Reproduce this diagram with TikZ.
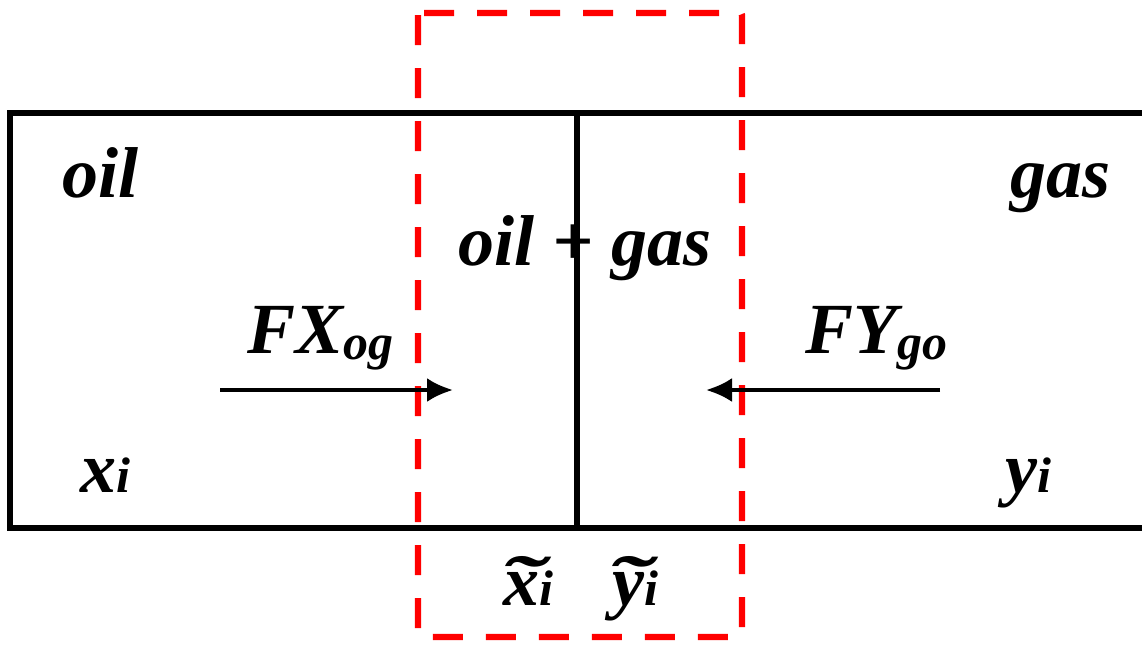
\documentclass[tikz,border=0pt]{standalone}
\usepackage{fontspec}
\usepackage{graphicx}
\setmainfont{Liberation Serif}
\usetikzlibrary{arrows.meta}
\newcommand{\subsm}[1]{{\fontsize{25}{25}\selectfont #1}}
\newcommand{\sublow}[1]{\raisebox{-3pt}{\subsm{#1}}}
\newcommand{\wtilde}[1]{\setbox0=\hbox{#1}\rlap{\hbox to \wd0{\hss\scalebox{1.8}[1]{\char"02DC}\hss}}\box0}

\begin{document}
\begin{tikzpicture}[
    x=0.5pt, y=-0.5pt,
    wall/.style={line width=3.2pt},
    zone/.style={draw=red, line width=3.2pt, dash pattern=on 15pt off 11.5pt, rounded corners=1pt},
    lbl/.style={font=\fontsize{36}{36}\selectfont\bfseries\itshape, inner sep=0pt, anchor=base west},
    flux/.style={-{Latex[length=13pt,width=12pt]}, line width=2pt}
]
\useasboundingbox (0,0) rectangle (1142,644);

% pipe walls and interface
\draw[wall] (1142,113) -| (10,528) -- (1142,528);
\draw[wall] (577,113) -- (577,528);

% interface control zone
\draw[zone] (418,13) rectangle (742,637);

% labels
\node[lbl] (oil) at (62,197) {oil};
\node[lbl] (gas) at (1010,197) {gas};
\node[lbl] (mix) at (458,265) {oil + gas};
\node[lbl] (fxog) at (247,353) {FX\sublow{og}};
\node[lbl] (fygo) at (805,353) {FY\sublow{go}};
\node[lbl] (xi) at (80,492) {x\subsm{i}};
\node[lbl] (yi) at (1005,492) {y\subsm{i}};
\node[lbl] (xt) at (503,605) {\wtilde{x}\subsm{i}};
\node[lbl] (yt) at (612,605) {\wtilde{y}\subsm{i}};

% fluxes towards the interface
\coordinate (fxs) at (220,390);
\coordinate (fxe) at (453,390);
\coordinate (fys) at (940,390);
\coordinate (fye) at (706,390);
\draw[flux] (fxs) -- (fxe);
\draw[flux] (fys) -- (fye);
\end{tikzpicture}
\end{document}
